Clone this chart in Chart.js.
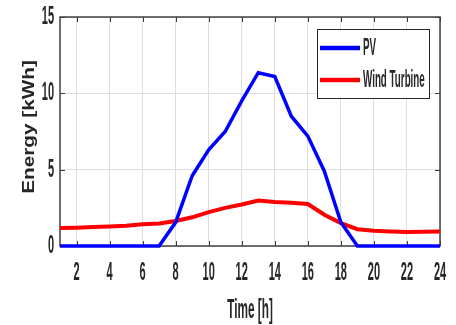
<!DOCTYPE html>
<html>
<head>
<meta charset="utf-8">
<script src="https://cdn.jsdelivr.net/npm/chart.js"></script>
<style>
  body { margin: 0; background: #fff; }
  #wrap { width: 456px; height: 325px; }
</style>
</head>
<body>
<div id="wrap"><canvas id="energy_graph" width="456" height="325"></canvas></div>
<script>
// data
var hours = [1,2,3,4,5,6,7,8,9,10,11,12,13,14,15,16,17,18,19,20,21,22,23,24];
var pv = [0,0,0,0,0,0,0,1.55,4.6,6.3,7.5,9.5,11.35,11.1,8.5,7.2,4.9,1.55,0,0,0,0,0,0];
var wind = [1.18,1.2,1.24,1.28,1.33,1.42,1.48,1.64,1.88,2.22,2.5,2.72,2.98,2.88,2.83,2.75,2.05,1.5,1.1,1.0,0.95,0.92,0.93,0.95];
var xTicks = [2,4,6,8,10,12,14,16,18,20,22,24];
var yTicks = [0,5,10,15];
var xTitle = 'Time [h]';
var yTitle = 'Energy [kWh]';

var textColor = '#262626';

// matlab style text is tall and narrow, so draw it stretched
function stretchText(ctx, text, x, y, size, weight, sy, align) {
  ctx.save();
  ctx.translate(x, y);
  ctx.scale(1, sy);
  ctx.font = weight + ' ' + size + 'px "Liberation Sans", Arial, sans-serif';
  ctx.fillStyle = textColor;
  ctx.textAlign = align;
  ctx.textBaseline = 'middle';
  ctx.fillText(text, 0, 0);
  ctx.restore();
}

var matlabAxes = {
  id: 'matlabAxes',
  beforeDatasetsDraw: function(chart) {
    var ctx = chart.ctx, a = chart.chartArea;
    var xs = chart.scales.x, ys = chart.scales.y;
    ctx.save();
    ctx.strokeStyle = '#3c3c3c';
    ctx.lineWidth = 1;
    ctx.beginPath();
    xTicks.forEach(function(v) {
      var px = Math.round(xs.getPixelForValue(v)) + 0.5;
      ctx.moveTo(px, a.bottom); ctx.lineTo(px, a.bottom - 5);
      ctx.moveTo(px, a.top); ctx.lineTo(px, a.top + 5);
    });
    yTicks.forEach(function(v) {
      var py = Math.round(ys.getPixelForValue(v)) + 0.5;
      ctx.moveTo(a.left, py); ctx.lineTo(a.left + 5, py);
      ctx.moveTo(a.right, py); ctx.lineTo(a.right - 5, py);
    });
    ctx.stroke();
    ctx.lineWidth = 1.5;
    ctx.strokeStyle = '#404040';
    ctx.strokeRect(a.left, a.top, a.right - a.left, a.bottom - a.top);
    ctx.restore();
  },
  afterDraw: function(chart) {
    var ctx = chart.ctx, a = chart.chartArea;
    var xs = chart.scales.x, ys = chart.scales.y;

    xTicks.forEach(function(v) {
      stretchText(ctx, String(v), xs.getPixelForValue(v), 273, 11, 'bold', 2.3, 'center');
    });
    yTicks.forEach(function(v) {
      stretchText(ctx, String(v), 54, ys.getPixelForValue(v), 11, 'bold', 2.3, 'right');
    });

    stretchText(ctx, xTitle, (a.left + a.right) / 2, 310, 11.8, 'bold', 2.35, 'center');

    // y title, rotated
    ctx.save();
    ctx.translate(29, 127);
    ctx.rotate(-Math.PI / 2);
    ctx.scale(1.22, 1);
    ctx.font = 'bold 17px "Liberation Sans", Arial, sans-serif';
    ctx.fillStyle = textColor;
    ctx.textAlign = 'center';
    ctx.textBaseline = 'middle';
    ctx.fillText(yTitle, 0, 0);
    ctx.restore();

    // legend box
    var lx = 317, ly = 29, lw = 112, lh = 69;
    ctx.save();
    ctx.fillStyle = '#ffffff';
    ctx.fillRect(lx, ly, lw, lh);
    ctx.strokeStyle = '#262626';
    ctx.lineWidth = 1;
    ctx.strokeRect(lx + 0.5, ly + 0.5, lw, lh);
    chart.data.datasets.forEach(function(ds, i) {
      var yy = ly + 19 + i * 32;
      ctx.strokeStyle = ds.borderColor;
      ctx.lineWidth = 4.5;
      ctx.beginPath();
      ctx.moveTo(lx + 3, yy);
      ctx.lineTo(lx + 43, yy);
      ctx.stroke();
      stretchText(ctx, ds.label, lx + 46, yy, 9.8, 'bold', 2.45, 'left');
    });
    ctx.restore();
  }
};

var ctx = document.getElementById('energy_graph');

var energyChart = new Chart(ctx, {
  type: 'line',
  data: {
    labels: hours,
    datasets: [
      {
        label: 'PV',
        data: pv,
        borderColor: '#0000ff',
        backgroundColor: '#0000ff',
        borderWidth: 3.5,
        pointRadius: 0,
        tension: 0,
        fill: false,
        clip: 6
      },
      {
        label: 'Wind Turbine',
        data: wind,
        borderColor: '#ff0000',
        backgroundColor: '#ff0000',
        borderWidth: 4,
        pointRadius: 0,
        tension: 0,
        fill: false,
        clip: 6
      }
    ]
  },
  options: {
    responsive: false,
    animation: false,
    layout: { padding: { left: 60, top: 17, right: 16, bottom: 79 } },
    plugins: {
      legend: { display: false },
      tooltip: { enabled: false }
    },
    scales: {
      x: {
        type: 'linear',
        min: 1,
        max: 24,
        afterBuildTicks: function(scale) {
          scale.ticks = xTicks.map(function(v) { return { value: v }; });
        },
        ticks: { display: false },
        grid: { color: '#dedede', lineWidth: 1, drawTicks: false },
        border: { display: false }
      },
      y: {
        min: 0,
        max: 15,
        afterBuildTicks: function(scale) {
          scale.ticks = yTicks.map(function(v) { return { value: v }; });
        },
        ticks: { display: false },
        grid: { color: '#dedede', lineWidth: 1, drawTicks: false },
        border: { display: false }
      }
    }
  },
  plugins: [matlabAxes]
});
</script>
</body>
</html>
